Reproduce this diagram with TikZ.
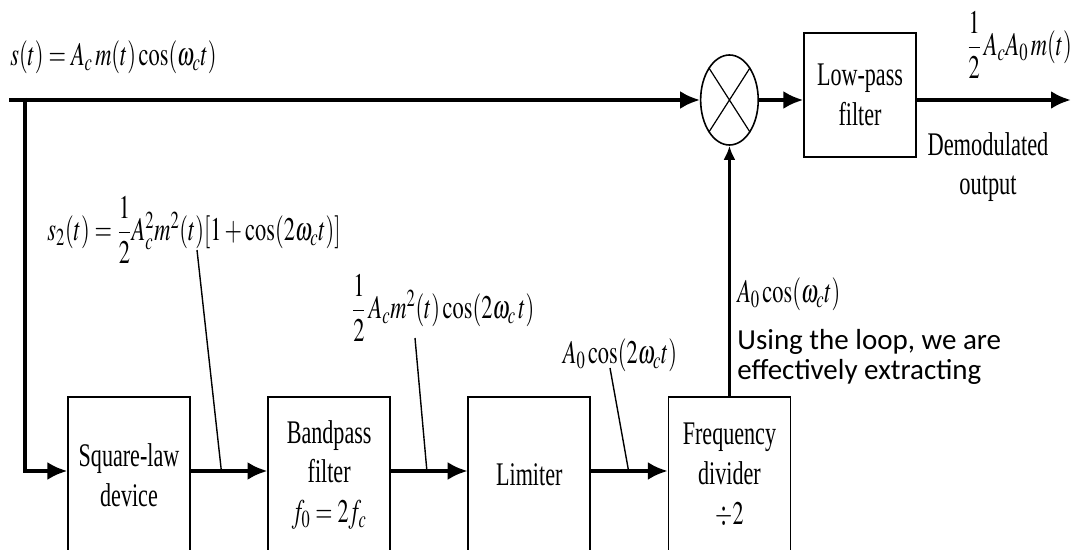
\documentclass[tikz,border=0pt]{standalone}
\usepackage{amsmath}
\usepackage{mathptmx}
\usepackage{fontspec}
\setmainfont{Liberation Serif}
\newfontfamily\notefont{Carlito}
\usetikzlibrary{arrows.meta,positioning,calc}
\tikzset{
  block/.style={draw,line width=0.9pt,xscale=0.67,minimum width=91pt,minimum height=78pt,align=center,inner sep=2pt,font=\fontsize{16.5}{19.8}\selectfont},
  sig/.style={xscale=0.68,inner sep=0pt,font=\fontsize{16.5}{19.8}\selectfont},
  arr/.style={-{Latex[length=10pt,width=9pt]},line width=2.4pt},
  uparr/.style={-{Latex[length=7pt,width=6pt]},line width=1.6pt},
  vwire/.style={line width=1.6pt},
  lead/.style={line width=0.7pt}
}
\begin{document}
\begin{tikzpicture}[x=0.5pt,y=-0.5pt,node distance=38.5pt]
  \useasboundingbox (0,0) rectangle (1072,550);
  \coordinate (in) at (9,100);
  \coordinate (split) at (25,100);
  \coordinate (out) at (1071,100);
  \node[block] (sq) at (129,475) {Square-law\\device};
  \node[block,right=of sq] (bp) {Bandpass\\filter\\$f_0=2f_c$};
  \node[block,right=of bp] (lim) {Limiter};
  \node[block,right=of lim] (div) {Frequency\\divider\\$\div 2$};
  \node[circle,draw,line width=0.8pt,minimum size=45pt,inner sep=0pt,xscale=0.64] (mix) at (div |- in) {};
  \draw[line width=0.6pt] (mix.45) -- (mix.225) (mix.135) -- (mix.-45);
  \node[block,minimum width=83.6pt,minimum height=62pt] (lp) at (860,95) {Low-pass\\filter};
  \coordinate (sqin) at ([yshift=2pt]sq.west);
  \coordinate (corner) at (split |- sqin);
  \draw[arr] (in) -- (mix.west);
  \draw[vwire] ([yshift=1pt]split) -- ([yshift=-1.2pt]corner);
  \draw[arr] ([xshift=-0.8pt]corner) -- (sqin);
  \foreach \a/\b in {sq/bp,bp/lim,lim/div}
    \draw[arr] ([yshift=2pt]\a.east) -- ([yshift=2pt]\b.west);
  \draw[uparr] (div.north) -- (mix.south);
  \draw[arr] (mix.east) -- (mix.east -| lp.west);
  \draw[arr] (lp.east |- mix.east) -- (out);
  \node[sig,anchor=west] (slab) at (10,57) {$s(t) = A_c\,m(t)\cos(\omega_c t)$};
  \node[sig] (s2lab) at (194,230) {$s_2(t) = \dfrac{1}{2}A_c^2 m^2(t)[1+\cos(2\omega_c t)]$};
  \node[sig] (bplab) at (443,308) {$\dfrac{1}{2}\,A_c m^2(t)\cos(2\omega_c\, t)$};
  \node[sig] (limlab) at (620,355) {$A_0\cos(2\omega_c t)$};
  \node[sig,anchor=west] (divlab) at (737,294) {$A_0\cos(\omega_c t)$};
  \node[sig,anchor=east] (outlab) at (1072,45) {$\dfrac{1}{2}\,A_cA_0\,m(t)$};
  \node[sig,align=center] (demod) at (988,167) {Demodulated\\output};
  \node[font=\notefont\fontsize{14.5}{15}\selectfont,align=left,anchor=north west,inner sep=0pt] (note) at (737,329) {Using the loop, we are\\effectively extracting};
  \coordinate (t1) at (197,250);
  \coordinate (t2) at (415,338);
  \coordinate (t3) at (610,368);
  \coordinate (h1) at ($([yshift=2pt]sq.east)!0.4!([yshift=2pt]bp.west)$);
  \coordinate (h2) at ($([yshift=2pt]bp.east)!0.47!([yshift=2pt]lim.west)$);
  \coordinate (h3) at ($([yshift=2pt]lim.east)!0.49!([yshift=2pt]div.west)$);
  \draw[lead] (t1) -- (h1);
  \draw[lead] (t2) -- (h2);
  \draw[lead] (t3) -- (h3);
\end{tikzpicture}
\end{document}
